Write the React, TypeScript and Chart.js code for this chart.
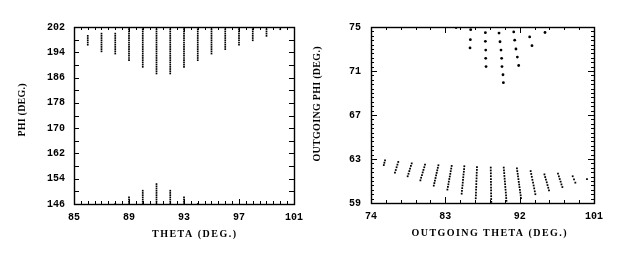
import React, { useEffect, useRef } from "react";
import { Chart, registerables } from "chart.js";

Chart.register(...registerables);

// ---------- LEFT PANEL DATA ----------
const LEFT_X_TICKS = [85, 89, 93, 97, 101];
const LEFT_Y_TICKS = [146, 154, 162, 170, 178, 186, 194, 202];
const LEFT_THETA = [86, 87, 88, 89, 90, 91, 92, 93, 94, 95, 96, 97, 98, 99, 100];
const LEFT_UPPER_TOP = [199.0, 200.0, 200.0, 201.2, 202, 202, 202, 202, 202, 202, 202, 202, 202, 202, 202];
const LEFT_UPPER_BOTTOM = [196.5, 194.2, 193.4, 191.3, 189.6, 187.5, 187.5, 189.6, 191.6, 193.6, 194.6, 196.5, 197.6, 198.8, 201.0];
const LEFT_LOWER_THETA = [88, 89, 90, 91, 92, 93, 94];
const LEFT_LOWER_TOP = [146.0, 148.0, 150.2, 152.3, 150.2, 148.0, 146.0];
const PHI_LEVELS_UPPER = [202.0, 201.3, 200.6, 199.9, 199.2, 198.5, 197.8, 197.1, 196.4, 195.7, 195.0, 194.3, 193.6, 192.9, 192.2, 191.5, 190.8, 190.1, 189.4, 188.7, 188.0, 187.3];
const PHI_LEVELS_LOWER = [146.0, 146.7, 147.4, 148.1, 148.8, 149.5, 150.2, 150.9, 151.6, 152.3];

// ---------- RIGHT PANEL DATA ----------
const RIGHT_X_TICKS = [74, 83, 92, 101];
const RIGHT_Y_TICKS = [59, 63, 67, 71, 75];
const RIGHT_UPPER_THETA = [84.3, 86.07, 86.03, 85.99, 87.85, 87.85, 87.89, 87.89, 87.93, 89.5, 89.62, 89.74, 89.82, 89.86, 89.98, 90.03, 91.28, 91.4, 91.55, 91.72, 91.88, 93.21, 93.49, 95.07];
const RIGHT_UPPER_PHI = [74.95, 74.76, 73.85, 73.1, 74.48, 73.7, 72.9, 72.15, 71.4, 74.45, 73.66, 72.9, 72.15, 71.4, 70.66, 69.94, 74.55, 73.8, 73.0, 72.27, 71.5, 74.1, 73.3, 74.5];
const RIGHT_LOWER_THETA = [
  [75.7, 75.62, 75.55],
  [77.3, 77.2, 77.1, 77.0, 76.9],
  [78.93, 78.83, 78.73, 78.64, 78.54, 78.44],
  [80.54, 80.45, 80.35, 80.26, 80.17, 80.07, 79.98],
  [82.16, 82.09, 82.02, 81.95, 81.88, 81.81, 81.74, 81.67, 81.6],
  [83.77, 83.71, 83.65, 83.6, 83.54, 83.48, 83.42, 83.37, 83.31, 83.25],
  [85.3, 85.27, 85.24, 85.2, 85.17, 85.14, 85.11, 85.08, 85.04, 85.01, 84.98],
  [86.83, 86.82, 86.8, 86.79, 86.78, 86.76, 86.75, 86.74, 86.72, 86.71, 86.7, 86.68],
  [88.5, 88.5, 88.51, 88.51, 88.52, 88.52, 88.53, 88.53, 88.54, 88.54, 88.55, 88.55, 88.56],
  [90.07, 90.1, 90.13, 90.15, 90.18, 90.21, 90.24, 90.26, 90.29, 90.32, 90.35, 90.37, 90.4],
  [91.67, 91.71, 91.76, 91.8, 91.85, 91.89, 91.94, 91.98, 92.03, 92.07, 92.12, 92.16],
  [93.33, 93.4, 93.47, 93.54, 93.62, 93.69, 93.76, 93.83, 93.9],
  [95.0, 95.09, 95.18, 95.28, 95.37, 95.46, 95.55],
  [96.64, 96.75, 96.85, 96.96, 97.06, 97.17],
  [98.42, 98.58, 98.74],
  [100.15],
];
const RIGHT_LOWER_PHI = [
  [62.88, 62.66, 62.45],
  [62.73, 62.49, 62.25, 62.0, 61.76],
  [62.6, 62.37, 62.13, 61.9, 61.66, 61.43],
  [62.49, 62.25, 62.01, 61.78, 61.54, 61.3, 61.06],
  [62.43, 62.2, 61.97, 61.74, 61.51, 61.27, 61.04, 60.81, 60.58],
  [62.37, 62.13, 61.89, 61.65, 61.41, 61.18, 60.94, 60.7, 60.46, 60.22],
  [62.34, 62.09, 61.84, 61.59, 61.34, 61.1, 60.85, 60.6, 60.35, 60.1, 59.85],
  [62.27, 62.01, 61.75, 61.5, 61.24, 60.98, 60.72, 60.46, 60.21, 59.95, 59.69, 59.43],
  [62.22, 61.96, 61.7, 61.44, 61.18, 60.92, 60.66, 60.4, 60.14, 59.88, 59.62, 59.36, 59.1],
  [62.22, 61.97, 61.72, 61.46, 61.21, 60.96, 60.71, 60.46, 60.21, 59.95, 59.7, 59.45, 59.2],
  [62.15, 61.9, 61.66, 61.41, 61.17, 60.92, 60.68, 60.44, 60.19, 59.95, 59.7, 59.45],
  [61.9, 61.64, 61.38, 61.11, 60.85, 60.59, 60.33, 60.06, 59.8],
  [61.6, 61.36, 61.12, 60.88, 60.63, 60.39, 60.15],
  [61.67, 61.43, 61.18, 60.94, 60.69, 60.45],
  [61.43, 61.14, 60.85],
  [61.18],
];

// ---------- build point lists ----------
function leftPoints() {
  const pts: { x: number; y: number }[] = [];
  LEFT_THETA.forEach((t, i) => {
    PHI_LEVELS_UPPER.forEach((p) => {
      if (p <= LEFT_UPPER_TOP[i] + 0.2 && p >= LEFT_UPPER_BOTTOM[i] - 0.2) pts.push({ x: t, y: p });
    });
  });
  LEFT_LOWER_THETA.forEach((t, i) => {
    PHI_LEVELS_LOWER.forEach((p) => {
      if (p <= LEFT_LOWER_TOP[i] + 0.1) pts.push({ x: t, y: p });
    });
  });
  return pts;
}
function rightUpperPoints() {
  return RIGHT_UPPER_THETA.map((t, i) => ({ x: t, y: RIGHT_UPPER_PHI[i] }));
}
function rightLowerPoints() {
  const pts: { x: number; y: number }[] = [];
  RIGHT_LOWER_THETA.forEach((col, c) => {
    col.forEach((t, k) => pts.push({ x: t, y: RIGHT_LOWER_PHI[c][k] }));
  });
  return pts;
}

// ---------- plugin: frame, inward ticks, titles ----------
const frameTicks = {
  id: "frameTicks",
  afterDraw(chart: any, _args: any, opts: any) {
    const { ctx, chartArea: a, scales } = chart;
    const x = scales.x;
    const y = scales.y;
    ctx.save();
    ctx.strokeStyle = "#000";
    ctx.lineWidth = 1;
    const line = (x1: number, y1: number, x2: number, y2: number) => {
      ctx.beginPath();
      ctx.moveTo(x1, y1);
      ctx.lineTo(x2, y2);
      ctx.stroke();
    };
    const xTicks = (step: number, len: number) => {
      for (let i = 0; ; i++) {
        const v = x.min + i * step;
        if (v > x.max + 1e-6) break;
        const px = Math.round(x.getPixelForValue(v)) + 0.5;
        line(px, a.bottom, px, a.bottom - len);
        line(px, a.top, px, a.top + len);
      }
    };
    const yTicks = (step: number, len: number) => {
      for (let i = 0; ; i++) {
        const v = y.min + i * step;
        if (v > y.max + 1e-6) break;
        const py = Math.round(y.getPixelForValue(v)) + 0.5;
        line(a.left, py, a.left + len, py);
        line(a.right, py, a.right - len, py);
      }
    };
    xTicks(opts.xMinor, opts.minorLen);
    xTicks(opts.xMajor, opts.majorLen);
    yTicks(opts.yMinor, opts.yMinorLen);
    yTicks(opts.yMajor, opts.majorLen);
    ctx.lineWidth = 1.4;
    ctx.strokeRect(Math.round(a.left) + 0.5, Math.round(a.top) + 0.5, Math.round(a.right - a.left), Math.round(a.bottom - a.top));

    ctx.fillStyle = "#000";
    ctx.font = opts.titleFont;
    ctx.textBaseline = "middle";
    ctx.textAlign = "left";
    (opts.titles || []).forEach((tt: any) => {
      ctx.save();
      ctx.letterSpacing = "0px";
      const w0 = ctx.measureText(tt.text).width;
      const ls = (tt.width - w0) / Math.max(1, tt.text.length - 1);
      ctx.letterSpacing = ls + "px";
      ctx.translate(tt.cx, tt.cy);
      if (tt.rotate) ctx.rotate(-Math.PI / 2);
      ctx.fillText(tt.text, -tt.width / 2, 0);
      ctx.restore();
    });
    ctx.restore();
  },
};

const TICK_FONT = { family: '"Liberation Mono", "DejaVu Sans Mono", monospace', size: 10, weight: "bold" as const };
const TITLE_FONT = 'bold 10px "Liberation Serif", "DejaVu Serif", serif';

function makeConfig(p: any) {
  return {
    type: "scatter" as const,
    data: { datasets: p.datasets },
    options: {
      animation: false as const,
      responsive: false,
      events: [],
      layout: { padding: p.padding },
      plugins: {
        legend: { display: false },
        tooltip: { enabled: false },
        frameTicks: p.frame,
      },
      scales: {
        x: {
          type: "linear" as const,
          min: p.xMin,
          max: p.xMax,
          grid: { display: false, drawTicks: false },
          border: { display: false },
          afterBuildTicks: (s: any) => {
            s.ticks = p.xTicks.map((v: number) => ({ value: v }));
          },
          ticks: { font: TICK_FONT, color: "#000", padding: p.xPad, maxRotation: 0, autoSkip: false },
          afterFit: (s: any) => {
            s.height = p.xHeight;
          },
        },
        y: {
          type: "linear" as const,
          min: p.yMin,
          max: p.yMax,
          grid: { display: false, drawTicks: false },
          border: { display: false },
          afterBuildTicks: (s: any) => {
            s.ticks = p.yTicks.map((v: number) => ({ value: v }));
          },
          ticks: { font: TICK_FONT, color: "#000", padding: p.yPad, autoSkip: false },
          afterFit: (s: any) => {
            s.width = p.yWidth;
          },
        },
      },
    },
    plugins: [frameTicks],
  };
}

function Panel({ left, config }: { left: number; config: any }) {
  const ref = useRef<HTMLCanvasElement | null>(null);
  useEffect(() => {
    if (!ref.current) return;
    const chart = new Chart(ref.current, config);
    return () => chart.destroy();
  }, []);
  return (
    <canvas
      ref={ref}
      width={310}
      height={258}
      style={{ position: "absolute", left, top: 0, width: 310, height: 258 }}
    />
  );
}

export default function App() {
  const leftConfig = makeConfig({
    datasets: [
      {
        data: leftPoints(),
        pointStyle: "rect",
        pointRadius: 1.2,
        backgroundColor: "#000",
        borderWidth: 0,
      },
    ],
    padding: { left: 0, right: 12, top: 27, bottom: 0 },
    xMin: 85,
    xMax: 101,
    yMin: 146,
    yMax: 202,
    xTicks: LEFT_X_TICKS,
    yTicks: LEFT_Y_TICKS,
    xPad: 7,
    yPad: 9,
    xHeight: 54,
    yWidth: 74,
    frame: {
      xMinor: 0.5,
      xMajor: 4,
      yMinor: 4,
      yMajor: 8,
      minorLen: 3,
      yMinorLen: 5,
      majorLen: 5,
      titleFont: TITLE_FONT,
      titles: [
        { text: "THETA (DEG.)", cx: 194, cy: 234, width: 84, rotate: false },
        { text: "PHI (DEG.)", cx: 22, cy: 110, width: 53, rotate: true },
      ],
    },
  });
  const rightConfig = makeConfig({
    datasets: [
      {
        data: rightUpperPoints(),
        pointStyle: "circle",
        pointRadius: 1.4,
        backgroundColor: "#000",
        borderWidth: 0,
      },
      {
        data: rightLowerPoints(),
        pointStyle: "rect",
        pointRadius: 1.25,
        backgroundColor: "#000",
        borderWidth: 0,
      },
    ],
    padding: { left: 0, right: 26, top: 27, bottom: 0 },
    xMin: 74,
    xMax: 101,
    yMin: 59,
    yMax: 75,
    xTicks: RIGHT_X_TICKS,
    yTicks: RIGHT_Y_TICKS,
    xPad: 7,
    yPad: 10,
    xHeight: 55,
    yWidth: 61,
    frame: {
      xMinor: 1.8,
      xMajor: 9,
      yMinor: 0.4,
      yMajor: 4,
      minorLen: 3,
      yMinorLen: 3,
      majorLen: 6,
      titleFont: TITLE_FONT,
      titles: [
        { text: "OUTGOING THETA (DEG.)", cx: 179, cy: 233, width: 155, rotate: false },
        { text: "OUTGOING PHI (DEG.)", cx: 7.5, cy: 104, width: 115, rotate: true },
      ],
    },
  });
  return (
    <div style={{ position: "fixed", left: 0, top: 0, width: 620, height: 258, background: "#fff" }}>
      <Panel left={0} config={leftConfig} />
      <Panel left={310} config={rightConfig} />
    </div>
  );
}
